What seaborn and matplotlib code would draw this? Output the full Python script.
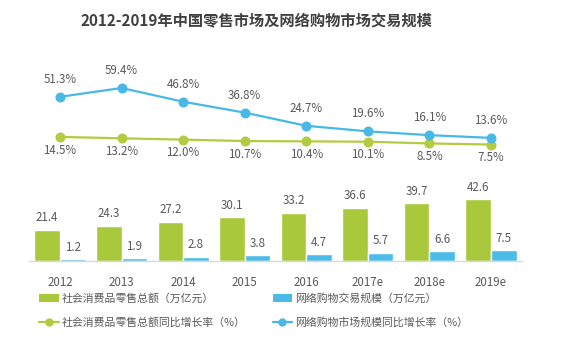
import numpy as np
import pandas as pd
import matplotlib
matplotlib.use("Agg")
import matplotlib.pyplot as plt
from matplotlib.patches import Patch
from matplotlib.lines import Line2D
import seaborn as sns

# ---- data ----
years = ["2012", "2013", "2014", "2015", "2016", "2017e", "2018e", "2019e"]
retail_total = [21.4, 24.3, 27.2, 30.1, 33.2, 36.6, 39.7, 42.6]
online_total = [1.2, 1.9, 2.8, 3.8, 4.7, 5.7, 6.6, 7.5]
retail_growth = [14.5, 13.2, 12.0, 10.7, 10.4, 10.1, 8.5, 7.5]
online_growth = [51.3, 59.4, 46.8, 36.8, 24.7, 19.6, 16.1, 13.6]

s_retail = "社会消费品零售总额（万亿元）"
s_online = "网络购物交易规模（万亿元）"
s_rg = "社会消费品零售总额同比增长率（%）"
s_og = "网络购物市场规模同比增长率（%）"

GREEN = "#A9C83B"
BLUE = "#4BBCE8"
LGREEN = "#B3CB40"
LBLUE = "#48B9E6"
TXT = "#595959"

sns.set_theme(style="white")
plt.rcParams["font.family"] = ["Noto Sans CJK SC", "DejaVu Sans"]

W, H = 565, 349
fig = plt.figure(figsize=(W / 100, H / 100), dpi=100)

def px_axes(left, top, right, bottom):
    return fig.add_axes([left / W, 1 - bottom / H, (right - left) / W, (bottom - top) / H])

# ---- bar axes ----
axb = px_axes(29.2, 180, 521.8, 261)
dfb = pd.DataFrame({
    "year": years * 2,
    "value": retail_total + online_total,
    "series": [s_retail] * len(years) + [s_online] * len(years),
})
sns.barplot(data=dfb, x="year", y="value", hue="series", order=years,
            hue_order=[s_retail, s_online], palette=[GREEN, BLUE],
            width=0.83, gap=0, saturation=1, legend=False, ax=axb)
for cont in axb.containers:
    axb.bar_label(cont, fmt="%.1f", padding=4, fontsize=8.3, color=TXT)
axb.set_ylim(0, 55.9)
axb.set_xlim(-0.5, 7.5)
axb.set_xlabel("")
axb.set_ylabel("")
axb.set_yticks([])
for sp in ["top", "left", "right"]:
    axb.spines[sp].set_visible(False)
axb.spines["bottom"].set_color("#D9D9D9")
axb.spines["bottom"].set_linewidth(1)
axb.tick_params(axis="x", length=0, pad=11, labelsize=8.3, labelcolor=TXT)

# ---- line axes ----
axl = px_axes(29.2, 60, 521.8, 160)
dfl = pd.DataFrame({
    "year": years * 2,
    "rate": retail_growth + online_growth,
    "series": [s_rg] * len(years) + [s_og] * len(years),
})
sns.pointplot(data=dfl, x="year", y="rate", hue="series", order=years,
              hue_order=[s_rg, s_og], palette=[LGREEN, LBLUE],
              markers="o", linestyles="-", markersize=6, linewidth=1.6,
              legend=False, ax=axl)
axl.set_ylim(-6.7, 85.1)
axl.set_xlim(-0.5, 7.5)
axl.axis("off")
for i, (g, o) in enumerate(zip(retail_growth, online_growth)):
    axl.annotate(f"{o:.1f}%", (i, o), xytext=(0, 12.5), textcoords="offset points",
                 ha="center", va="center", fontsize=8.3, color=TXT)
    axl.annotate(f"{g:.1f}%", (i, g), xytext=(0, -9.5), textcoords="offset points",
                 ha="center", va="center", fontsize=8.3, color=TXT)

# ---- title ----
fig.text(256 / W, 1 - 20 / H, "2012-2019年中国零售市场及网络购物市场交易规模",
         ha="center", va="center", fontsize=11, fontweight="bold", color="#404040")

# ---- legend ----
handles = [
    Patch(facecolor=GREEN, edgecolor="none"),
    Line2D([0], [0], color=LGREEN, lw=1.6, marker="o", markersize=5),
    Patch(facecolor=BLUE, edgecolor="none"),
    Line2D([0], [0], color=LBLUE, lw=1.6, marker="o", markersize=5),
]
labels = [s_retail, s_rg, s_online, s_og]
fig.legend(handles, labels, ncol=2, loc="upper left",
           bbox_to_anchor=(39 / W, 1 - 293 / H), frameon=False,
           borderaxespad=0, borderpad=0, handlelength=1.8, handletextpad=0.3,
           columnspacing=2.5, labelspacing=1.2, fontsize=7.8,
           labelcolor=TXT)

fig.savefig("out.png", dpi=100)
